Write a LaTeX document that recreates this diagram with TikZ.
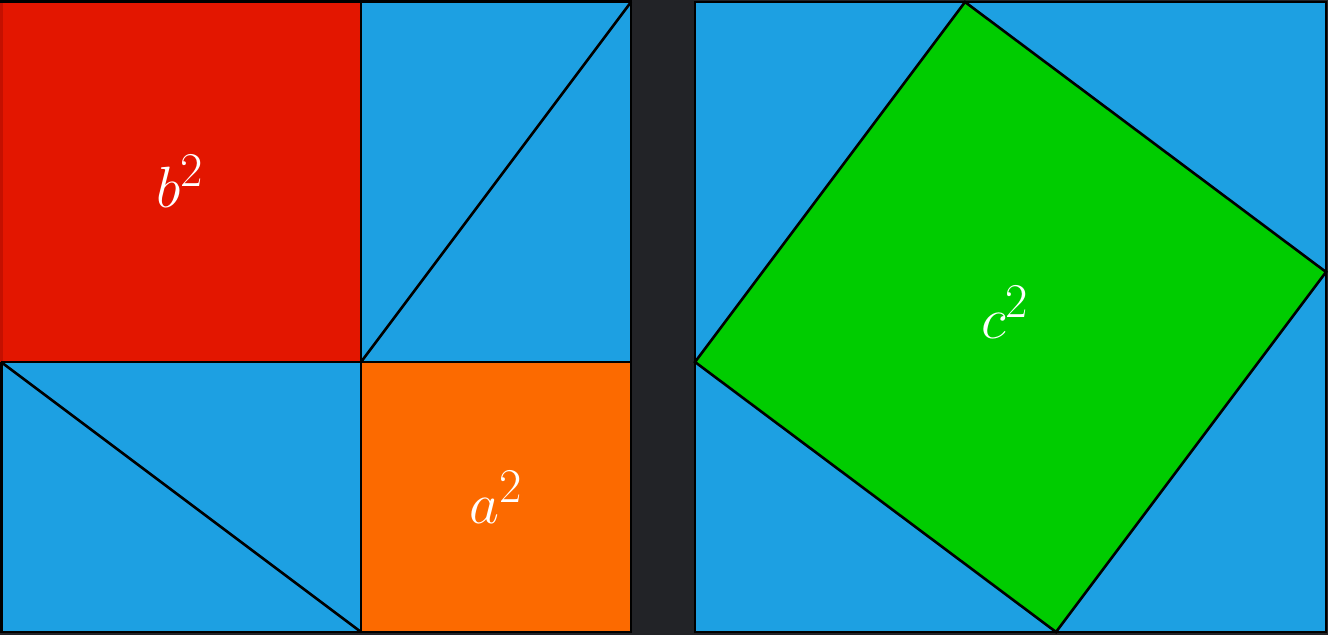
\documentclass[tikz,border=0pt]{standalone}
\definecolor{bg}{HTML}{222327}
\definecolor{tblue}{HTML}{1DA0E2}
\definecolor{tred}{HTML}{E31600}
\definecolor{tdred}{HTML}{C41000}
\definecolor{torange}{HTML}{FC6A00}
\definecolor{tgreen}{HTML}{00CC00}
\tikzset{
  edge/.style={draw=black,line width=1.3pt,line join=miter},
  lab/.style={text=white,font=\Huge,scale=1.17,transform shape}
}
\begin{document}
\begin{tikzpicture}[x=0.5pt,y=-0.5pt]
\useasboundingbox (0,0) rectangle (1328,635);
\fill[bg] (0,0) rectangle (1328,635);
% left square
\fill[tblue] (1,1) rectangle (631,632);
\fill[tred] (1,1) rectangle (361,362);
\draw[draw=tdred,line width=1.3pt] (1.5,1.5) rectangle (361,362);
\fill[torange] (361,362) rectangle (631,632);
\draw[edge] (361,362) -- (631,2);
\draw[edge] (1,362) -- (361,632);
\draw[edge] (361,1) -- (361,632);
\draw[edge] (1,362) -- (631,362);
\draw[edge] (0,1.5) -- (631,1.5) -- (631,632) -- (1.5,632) -- (1.5,362);
% right square
\fill[tblue] (695,2) rectangle (1326,632);
\filldraw[edge,fill=tgreen] (965,2) -- (1326,272) -- (1056,632) -- (695,362) -- cycle;
\draw[edge] (695,2) rectangle (1326,632);
% labels
\node[lab] (lb) at (180,181) {$b^2$};
\node[lab] (la) at (496,497) {$a^2$};
\node[lab] (lc) at (1005,312) {$c^2$};
\end{tikzpicture}
\end{document}
